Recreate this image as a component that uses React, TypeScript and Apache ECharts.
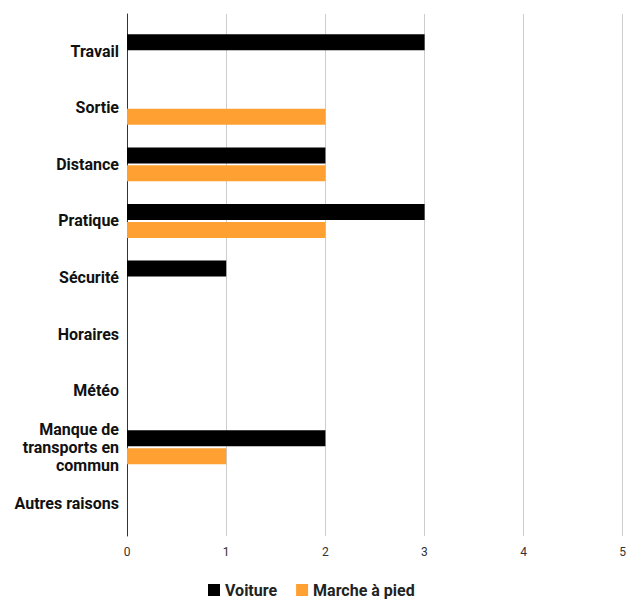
import React, { useEffect, useRef } from "react";
import * as echarts from "echarts";

const categories = [
  "Travail",
  "Sortie",
  "Distance",
  "Pratique",
  "Sécurité",
  "Horaires",
  "Météo",
  "Manque de\ntransports en\ncommun",
  "Autres raisons",
];
const voiture = [3, 0, 2, 3, 1, 0, 0, 2, 0];
const marcheAPied = [0, 2, 2, 2, 0, 0, 0, 1, 0];
const xTicks = [0, 1, 2, 3, 4, 5];

const FONT = "Roboto, 'Noto Sans', sans-serif";

export default function App() {
  const ref = useRef<HTMLDivElement>(null);

  useEffect(() => {
    if (!ref.current) return;
    const chart = echarts.init(ref.current, null, { renderer: "svg" });
    chart.setOption({
      animation: false,
      textStyle: { fontFamily: FONT },
      legend: {
        top: 569,
        left: 195,
        itemWidth: 12,
        itemHeight: 12,
        itemGap: 19,
        itemTextGap: 7,
        icon: "rect",
        textStyle: { fontSize: 16, fontWeight: "bold", color: "#222", fontFamily: FONT },
        data: ["Voiture", "Marche à pied"],
      },
      grid: [
        // frame grid: gridlines, ticks and the left axis line
        { left: 119, width: 496, top: 6, height: 522, containLabel: false },
        // bar grid: category bands sit inside the frame
        { left: 119, width: 496, top: 15, height: 509, containLabel: false },
      ],
      xAxis: [
        {
          gridIndex: 0,
          type: "value",
          min: 0,
          max: 5,
          interval: 1,
          axisLine: { show: false },
          axisTick: { show: false },
          splitLine: { show: true, lineStyle: { color: "#cccccc", width: 1 } },
          axisLabel: {
            color: "#333",
            fontSize: 12,
            margin: 10,
            fontFamily: FONT,
            formatter: (v: number) => (xTicks.includes(v) ? String(v) : ""),
          },
        },
        {
          gridIndex: 1,
          type: "value",
          min: 0,
          max: 5,
          show: false,
        },
      ],
      yAxis: [
        {
          gridIndex: 0,
          type: "value",
          min: 0,
          max: 1,
          axisLine: { show: true, onZero: false, lineStyle: { color: "#333", width: 1 } },
          axisTick: { show: false },
          axisLabel: { show: false },
          splitLine: { show: false },
        },
        {
          gridIndex: 1,
          type: "category",
          inverse: true,
          data: categories,
          axisLine: { show: false },
          axisTick: { show: false },
          splitLine: { show: false },
          axisLabel: {
            color: "#111",
            fontSize: 16,
            fontWeight: "bold",
            lineHeight: 18,
            margin: 8,
            align: "right",
            fontFamily: FONT,
          },
        },
      ],
      series: [
        {
          name: "Voiture",
          type: "bar",
          xAxisIndex: 1,
          yAxisIndex: 1,
          data: voiture,
          barWidth: 16,
          barGap: "12%",
          itemStyle: { color: "#000000" },
        },
        {
          name: "Marche à pied",
          type: "bar",
          xAxisIndex: 1,
          yAxisIndex: 1,
          data: marcheAPied,
          barWidth: 16,
          barGap: "12%",
          itemStyle: { color: "#ffa033" },
        },
      ],
    });
    return () => chart.dispose();
  }, []);

  return <div ref={ref} style={{ width: 621, height: 593 }} />;
}
